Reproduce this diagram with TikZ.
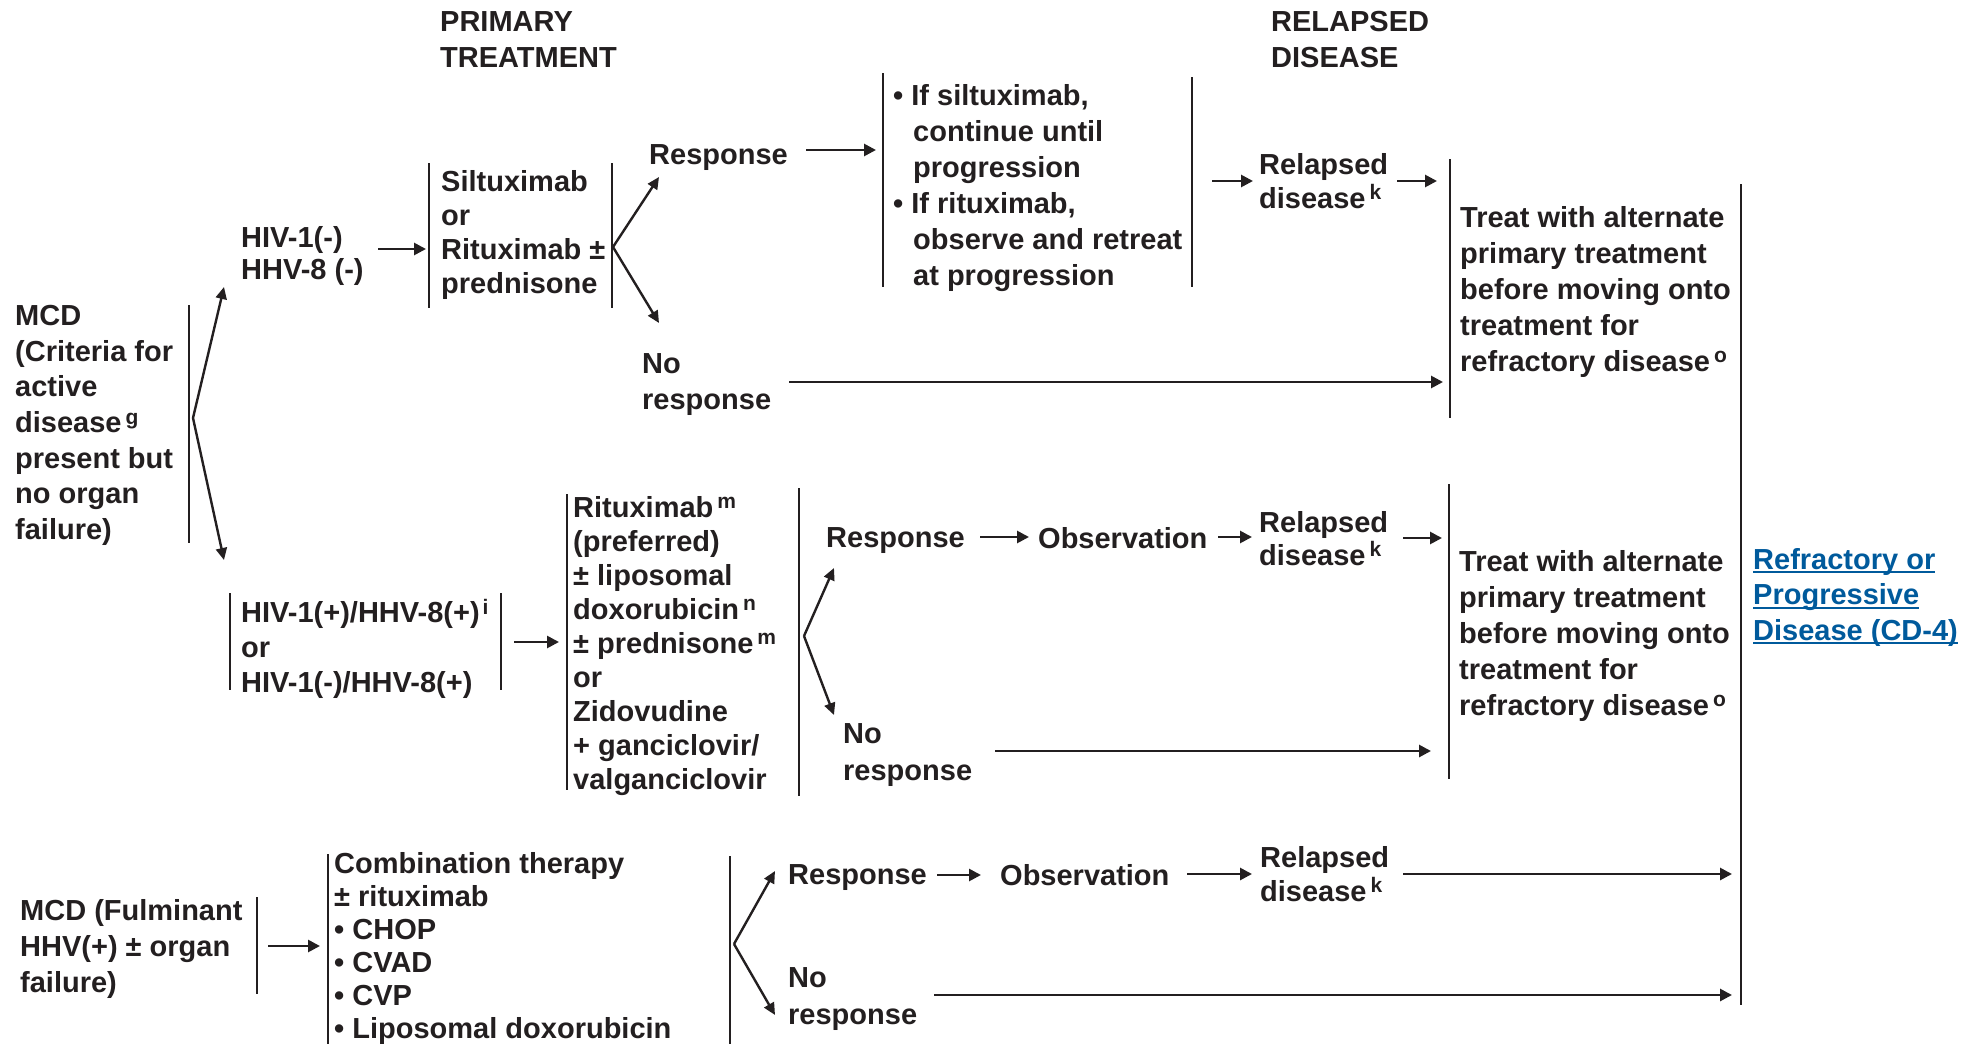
\documentclass[tikz,border=0pt]{standalone}
\usepackage{fontspec}
\setmainfont{Liberation Sans}
\usetikzlibrary{arrows.meta}
\definecolor{ink}{RGB}{35,31,32}
\definecolor{linkblue}{RGB}{0,90,156}
\newcommand\sups[1]{\kern4pt\raisebox{8.5pt}{\fontsize{21}{21}\selectfont #1}}
\newcommand\myul[1]{\setbox0\hbox{#1}\rlap{\rule[-4pt]{\wd0}{2pt}}\box0}
\begin{document}
\begin{tikzpicture}[x=1pt,y=-1pt,
  txt/.style={anchor=north west, inner sep=0pt, align=left, text=ink, font=\bfseries\fontsize{29}{#1}\selectfont},
  txt/.default=36,
  bar/.style={draw=ink, line width=2.6pt},
  arr/.style={draw=ink, line width=2.7pt, -{Triangle[length=12pt,width=12pt]}},
  fork/.style={draw=ink, line width=2.4pt, -{Triangle[length=12pt,width=11pt]}}
]
\useasboundingbox (0,0) rectangle (1976,1044);

% ---------- headings ----------
\node[txt] (prim) at (440,11) {PRIMARY\\TREATMENT};
\node[txt] (relh) at (1271,11) {RELAPSED\\DISEASE};

% ---------- top branch ----------
\node[txt=35.7] (mcd) at (15,305) {MCD\\(Criteria for\\active\\disease\sups{g}\\present but\\no organ\\failure)};
\node[txt=32] (hivn) at (241,226) {HIV-1(-)\\HHV-8 (-)};
\node[txt=34] (silt) at (441,170) {Siltuximab\\or\\Rituximab ±\\prednisone};
\node[txt] (resp1) at (649,144) {Response};
\node[txt] (bul) at (893,84) {• If siltuximab,\\\hspace*{20pt}continue until\\\hspace*{20pt}progression\\• If rituximab,\\\hspace*{20pt}observe and retreat\\\hspace*{20pt}at progression};
\node[txt=34] (rel1) at (1259,153) {Relapsed\\disease\sups{k}};
\node[txt] (treat1) at (1460,206) {Treat with alternate\\primary treatment\\before moving onto\\treatment for\\refractory disease\sups{o}};
\node[txt] (nr1) at (642,353) {No\\response};

% ---------- middle branch ----------
\node[txt=35] (hivp) at (241,599) {HIV-1(+)/HHV-8(+)\kern-1pt\sups{i}\\or\\HIV-1(-)/HHV-8(+)};
\node[txt=34] (ritu) at (573,496) {Rituximab\sups{m}\\(preferred)\\± liposomal\\doxorubicin\sups{n}\\± prednisone\sups{m}\\or\\Zidovudine\\+ ganciclovir/\\valganciclovir};
\node[txt] (resp2) at (826,527) {Response};
\node[txt] (obs2) at (1038,527) {Observation};
\node[txt=33] (rel2) at (1259,511) {Relapsed\\disease\sups{k}};
\node[txt] (treat2) at (1459,550) {Treat with alternate\\primary treatment\\before moving onto\\treatment for\\refractory disease\sups{o}};
\node[txt=37] (nr2) at (843,723) {No\\response};
\node[txt=35.5, text=linkblue] (refr) at (1753,548) {\myul{Refractory or}\\\myul{Progressive}\\\myul{Disease (CD-4)}};

% ---------- bottom branch ----------
\node[txt] (mcd2) at (20,899) {MCD (Fulminant\\HHV(+) ± organ\\failure)};
\node[txt=33] (comb) at (334,852) {Combination therapy\\± rituximab\\• CHOP\\• CVAD\\• CVP\\• Liposomal doxorubicin};
\node[txt] (resp3) at (788,864) {Response};
\node[txt] (obs3) at (1000,864) {Observation};
\node[txt=34] (rel3) at (1260,846) {Relapsed\\disease\sups{k}};
\node[txt=37] (nr3) at (788,967) {No\\response};

% ---------- bars ----------
\draw[bar] (189,305) -- (189,543);
\draw[bar] (429,163) -- (429,308);
\draw[bar] (612,163) -- (612,308);
\draw[bar] (883,73) -- (883,287);
\draw[bar] (1192,77) -- (1192,287);
\draw[bar] (1450,159) -- (1450,418);
\draw[bar] (1741,184) -- (1741,1005);
\draw[bar] (230,593) -- (230,690);
\draw[bar] (501,593) -- (501,690);
\draw[bar] (567,494) -- (567,790);
\draw[bar] (799,488) -- (799,796);
\draw[bar] (1449,484) -- (1449,779);
\draw[bar] (257,897) -- (257,994);
\draw[bar] (328,854) -- (328,1044);
\draw[bar] (730,856) -- (730,1044);

% ---------- fork points ----------
\coordinate (f1) at (193,418);
\coordinate (f1u) at (224,287);
\coordinate (f1d) at (224,560);
\coordinate (f2) at (613,247);
\coordinate (f2u) at (659,177);
\coordinate (f2d) at (659,323);
\coordinate (f3) at (804,636);
\coordinate (f3u) at (834,568);
\coordinate (f3d) at (834,715);
\coordinate (f4) at (734,944);
\coordinate (f4u) at (775,871);
\coordinate (f4d) at (775,1015);
\draw[fork] (f1) -- (f1u);
\draw[fork] (f1) -- (f1d);
\draw[fork] (f2) -- (f2u);
\draw[fork] (f2) -- (f2d);
\draw[fork] (f3) -- (f3u);
\draw[fork] (f3) -- (f3d);
\draw[fork] (f4) -- (f4u);
\draw[fork] (f4) -- (f4d);

% ---------- arrow end points ----------
\coordinate (a1s) at (378,249);  \coordinate (a1e) at (426,249);
\coordinate (a2s) at (806,150);  \coordinate (a2e) at (876,150);
\coordinate (a3s) at (1212,181); \coordinate (a3e) at (1253,181);
\coordinate (a4s) at (1397,181); \coordinate (a4e) at (1437,181);
\coordinate (a5s) at (789,382);  \coordinate (a5e) at (1443,382);
\coordinate (a6s) at (514,642);  \coordinate (a6e) at (559,642);
\coordinate (a7s) at (980,537);  \coordinate (a7e) at (1029,537);
\coordinate (a8s) at (1218,537); \coordinate (a8e) at (1252,537);
\coordinate (a9s) at (1403,538); \coordinate (a9e) at (1442,538);
\coordinate (a10s) at (995,751); \coordinate (a10e) at (1431,751);
\coordinate (a11s) at (268,946); \coordinate (a11e) at (320,946);
\coordinate (a12s) at (937,875); \coordinate (a12e) at (981,875);
\coordinate (a13s) at (1187,874); \coordinate (a13e) at (1252,874);
\coordinate (a14s) at (1403,874); \coordinate (a14e) at (1732,874);
\coordinate (a15s) at (934,995); \coordinate (a15e) at (1732,995);
\foreach \i in {1,...,15} {\draw[arr] (a\i s) -- (a\i e);}
\end{tikzpicture}
\end{document}
